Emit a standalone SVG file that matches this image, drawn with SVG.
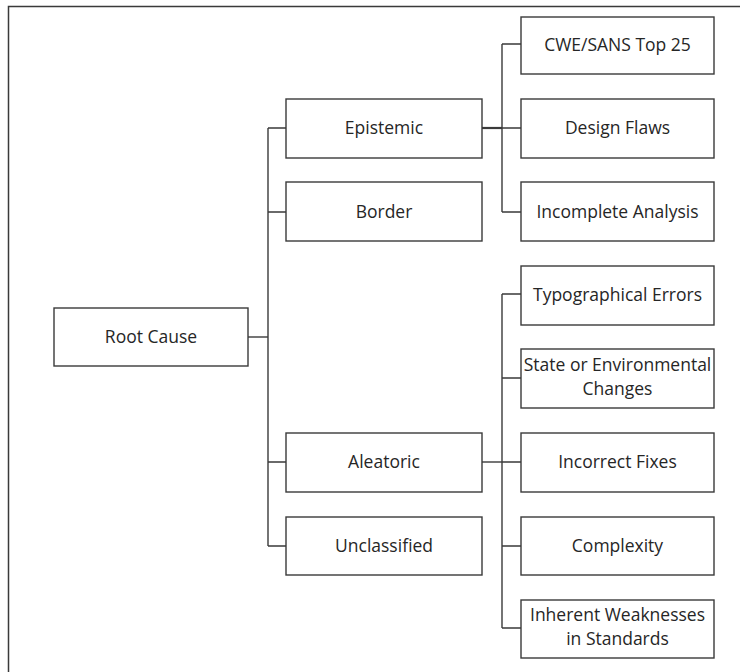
<svg xmlns="http://www.w3.org/2000/svg" width="740" height="672" viewBox="0 0 740 672">
  <style>
    .frame { fill: none; stroke: #3a3a3a; stroke-width: 1.5; }
    .box rect { fill: #ffffff; stroke: #3a3a3a; stroke-width: 1.4; }
    .box text { font-family: "Open Sans", "Liberation Sans", sans-serif; font-size: 17.5px; fill: #262626; text-anchor: middle; }
    .links path { fill: none; stroke: #3a3a3a; stroke-width: 1.4; }
  </style>
  <rect width="740" height="672" fill="#ffffff"/>
  <!-- outer frame, open to the right and bottom -->
  <path class="frame" d="M8.5,680 V6.5 H745"/>

  <!-- connectors -->
  <g id="connectors" class="links">
    <path d="M248,337 H268"/>
    <path d="M268,128 V546"/>
    <path d="M268,128 H286 M268,212 H286 M268,462 H286 M268,546 H286"/>
    <path d="M482,128 H502" style="stroke-width:2.2"/>
    <path d="M502,44 V212"/>
    <path d="M502,44 H521 M502,128 H521 M502,212 H521"/>
    <path d="M482,462 H502"/>
    <path d="M502,294 V628"/>
    <path d="M502,294 H521 M502,378 H521 M502,462 H521 M502,546 H521 M502,628 H521"/>
  </g>

  <!-- root -->
  <g id="root-cause" class="box">
    <rect x="54" y="308" width="194" height="58"/>
    <text x="151" y="343">Root Cause</text>
  </g>

  <!-- first level -->
  <g id="epistemic" class="box">
    <rect x="286" y="99" width="196" height="59"/>
    <text x="384" y="134">Epistemic</text>
  </g>
  <g id="border" class="box">
    <rect x="286" y="182" width="196" height="59"/>
    <text x="384" y="218">Border</text>
  </g>
  <g id="aleatoric" class="box">
    <rect x="286" y="433" width="196" height="59"/>
    <text x="384" y="468">Aleatoric</text>
  </g>
  <g id="unclassified" class="box">
    <rect x="286" y="517" width="196" height="58"/>
    <text x="384" y="552">Unclassified</text>
  </g>

  <!-- second level: epistemic -->
  <g id="cwe-sans" class="box">
    <rect x="521" y="17" width="193" height="57"/>
    <text x="617.5" y="51">CWE/SANS Top 25</text>
  </g>
  <g id="design-flaws" class="box">
    <rect x="521" y="99" width="193" height="59"/>
    <text x="617.5" y="134">Design Flaws</text>
  </g>
  <g id="incomplete-analysis" class="box">
    <rect x="521" y="182" width="193" height="59"/>
    <text x="617.5" y="218">Incomplete Analysis</text>
  </g>

  <!-- second level: aleatoric -->
  <g id="typographical-errors" class="box">
    <rect x="521" y="266" width="193" height="59"/>
    <text x="617.5" y="301">Typographical Errors</text>
  </g>
  <g id="state-changes" class="box">
    <rect x="521" y="349" width="193" height="59"/>
    <text x="617.5" y="371">State or Environmental</text>
    <text x="617.5" y="395">Changes</text>
  </g>
  <g id="incorrect-fixes" class="box">
    <rect x="521" y="433" width="193" height="59"/>
    <text x="617.5" y="468">Incorrect Fixes</text>
  </g>
  <g id="complexity" class="box">
    <rect x="521" y="517" width="193" height="58"/>
    <text x="617.5" y="552">Complexity</text>
  </g>
  <g id="inherent-weaknesses" class="box">
    <rect x="521" y="600" width="193" height="58"/>
    <text x="617.5" y="621">Inherent Weaknesses</text>
    <text x="617.5" y="645">in Standards</text>
  </g>
</svg>
